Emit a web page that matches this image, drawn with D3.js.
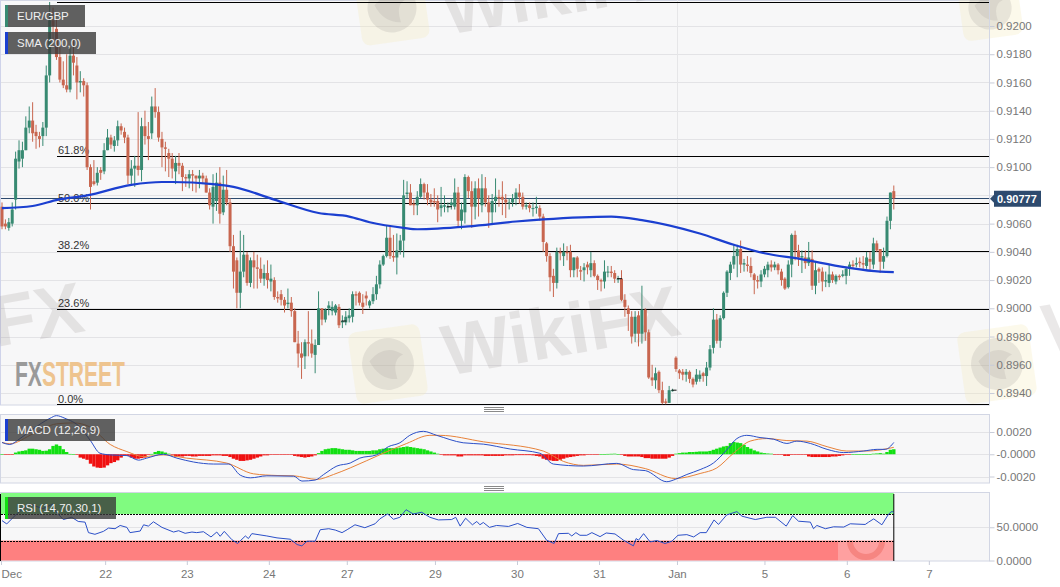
<!DOCTYPE html>
<html><head><meta charset="utf-8">
<script src="https://cdn.jsdelivr.net/npm/d3@7"></script>
<style>html,body{margin:0;padding:0;background:#fff;overflow:hidden}svg{display:block}text{font-family:"Liberation Sans",Arial,sans-serif}</style>
</head><body><div id="c"></div>
<script>
// Prices in pips (0.0001). Hourly candles.
const opens=[9072,9060,9057,9060,9077,9104,9106,9112,9128,9133,
9125,9122,9122,9128,9165,9204,9198,9178,9162,9158,
9155,9179,9172,9160,9161,9158,9100,9090,9089,9098,
9097,9112,9121,9115,9119,9129,9125,9121,9094,9099,
9101,9098,9129,9122,9124,9143,9139,9120,9114,9110,
9106,9097,9103,9101,9093,9092,9095,9094,9092,9094,
9092,9082,9072,9076,9089,9068,9084,9075,9044,9034,
9011,9026,9038,9018,9034,9029,9028,9021,9025,9019,
9020,9008,9010,9006,9003,9004,8998,8975,8968,8966,
8976,8975,8967,8974,9000,8992,9000,8998,8997,9001,
8990,8990,8993,8994,9010,9011,9004,9009,9002,9005,
9010,9017,9031,9037,9050,9037,9036,9041,9048,9081,
9082,9074,9073,9079,9088,9082,9077,9076,9076,9071,
9072,9072,9073,9072,9082,9062,9068,9093,9083,9072,
9085,9073,9085,9075,9068,9076,9079,9079,9077,9075,
9075,9078,9082,9079,9072,9073,9071,9071,9071,9065,
9046,9037,9023,9018,9040,9037,9040,9040,9027,9036,
9027,9027,9031,9027,9032,9023,9020,9019,9026,9026,
9025,9021,9021,9006,9000,8994,8982,8995,8982,8999,
8983,8951,8949,8955,8942,8934,8933,8942,8965,8956,
8955,8953,8955,8950,8948,8950,8954,8952,8958,8972,
8992,8977,8993,9011,9025,9031,9037,9042,9031,9031,
9030,9024,9020,9019,9024,9027,9031,9029,9031,9026,
9021,9015,9031,9052,9041,9036,9036,9032,9035,9016,
9028,9026,9019,9018,9024,9019,9023,9023,9023,9028,
9031,9031,9033,9032,9030,9035,9031,9046,9042,9033,
9037,9062,9083];
const closes=[9058,9058,9061,9070,9106,9112,9112,9128,9133,9124,
9122,9120,9128,9165,9204,9200,9178,9162,9158,9155,
9179,9174,9160,9161,9158,9100,9086,9088,9096,9096,
9112,9121,9116,9119,9129,9126,9121,9094,9099,9101,
9098,9129,9122,9120,9143,9139,9121,9114,9113,9106,
9099,9103,9101,9093,9092,9095,9094,9092,9094,9092,
9082,9073,9086,9089,9067,9084,9075,9044,9026,9011,
9026,9038,9018,9034,9029,9028,9021,9025,9020,9021,
9008,9007,9006,9002,9004,8998,8976,8968,8965,8976,
8975,8968,8974,9000,8992,8999,9002,9001,9002,8988,
8991,8994,8995,9010,9009,9004,9001,9007,9005,9010,
9017,9031,9037,9050,9037,9036,9041,9048,9080,9082,
9073,9073,9079,9088,9082,9077,9075,9075,9070,9073,
9073,9072,9075,9082,9062,9070,9093,9083,9072,9085,
9078,9085,9075,9068,9076,9079,9078,9077,9075,9075,
9078,9082,9079,9072,9073,9071,9071,9072,9065,9047,
9037,9022,9018,9040,9039,9040,9039,9027,9036,9028,
9026,9029,9029,9032,9023,9020,9019,9026,9026,9025,
9021,9021,9006,9001,8996,8980,8994,8982,8999,8983,
8951,8949,8954,8942,8933,8933,8942,8942,8957,8954,
8953,8955,8950,8946,8953,8953,8952,8958,8971,8992,
8977,8993,9011,9026,9031,9037,9042,9031,9032,9030,
9025,9020,9019,9024,9028,9031,9029,9031,9027,9020,
9014,9031,9052,9041,9036,9037,9032,9036,9016,9027,
9026,9019,9020,9024,9020,9023,9022,9024,9028,9031,
9030,9032,9032,9031,9036,9033,9046,9041,9033,9037,
9062,9082,9078];
const highs=[9075,9063,9064,9075,9111,9119,9118,9136,9143,9146,
9130,9125,9132,9172,9217,9213,9205,9185,9175,9180,
9185,9190,9178,9168,9163,9160,9102,9105,9100,9100,
9117,9127,9123,9122,9133,9131,9128,9123,9105,9108,
9139,9135,9140,9132,9150,9156,9143,9125,9118,9113,
9110,9108,9110,9103,9095,9098,9098,9094,9098,9096,
9094,9085,9095,9096,9100,9094,9098,9078,9052,9036,
9055,9052,9040,9036,9040,9038,9036,9031,9034,9031,
9022,9012,9013,9008,9014,9008,9000,8984,8976,8978,
8998,8985,8978,9012,9000,9000,9005,9005,9003,9003,
8995,8998,9000,9012,9012,9012,9010,9012,9006,9015,
9023,9034,9038,9059,9058,9052,9053,9052,9091,9090,
9088,9077,9083,9092,9089,9088,9081,9085,9080,9086,
9080,9075,9078,9092,9086,9075,9095,9094,9090,9090,
9092,9095,9093,9080,9081,9092,9084,9090,9081,9078,
9081,9085,9088,9082,9075,9075,9075,9079,9073,9067,
9047,9039,9028,9043,9043,9046,9044,9045,9036,9037,
9030,9032,9033,9040,9034,9024,9021,9034,9030,9030,
9027,9023,9027,9010,9002,8998,8998,8998,9016,9000,
8985,8960,8958,8956,8948,8936,8945,8943,8966,8957,
8957,8957,8956,8951,8957,8956,8955,8962,8974,9000,
8996,8995,9012,9027,9033,9045,9045,9048,9035,9037,
9036,9025,9023,9027,9030,9033,9034,9033,9032,9028,
9022,9034,9053,9055,9045,9041,9041,9047,9041,9033,
9029,9029,9026,9031,9026,9024,9024,9027,9029,9033,
9034,9036,9036,9037,9040,9040,9050,9048,9042,9043,
9065,9082,9087];
const lows=[9056,9056,9055,9058,9070,9099,9100,9112,9124,9118,
9113,9114,9115,9122,9160,9190,9176,9160,9156,9153,
9153,9165,9148,9153,9150,9098,9070,9087,9087,9091,
9095,9112,9113,9111,9115,9123,9117,9088,9087,9086,
9094,9090,9116,9105,9120,9135,9118,9100,9097,9093,
9092,9088,9095,9083,9086,9085,9083,9082,9085,9088,
9082,9070,9060,9069,9060,9066,9073,9040,9014,9000,
9000,9022,9016,9015,9014,9014,9018,9016,9014,9012,
9006,9004,9002,8997,9000,8994,8976,8958,8950,8957,
8966,8965,8954,8974,8988,8990,8995,8995,8995,8986,
8986,8988,8990,8990,9002,9002,8996,9002,9000,9003,
9006,9014,9030,9036,9035,9033,9024,9038,9036,9078,
9073,9066,9066,9078,9077,9073,9072,9072,9061,9065,
9068,9068,9070,9070,9058,9056,9060,9078,9057,9063,
9065,9068,9072,9057,9060,9068,9072,9066,9064,9070,
9072,9073,9074,9070,9070,9068,9065,9067,9062,9040,
9033,9012,9008,9014,9034,9030,9034,9022,9022,9022,
9020,9019,9024,9022,9022,9013,9012,9014,9022,9022,
9018,9018,9005,8994,8984,8975,8976,8973,8975,8977,
8950,8945,8943,8940,8932,8932,8933,8941,8955,8950,
8949,8948,8947,8944,8946,8948,8948,8945,8956,8968,
8975,8972,8992,9008,9020,9028,9022,9025,9026,9026,
9022,9010,9014,9015,9022,9022,9026,9027,9024,9016,
9013,9014,9022,9034,9030,9025,9028,9030,9013,9010,
9018,9012,9015,9015,9018,9017,9020,9022,9017,9023,
9028,9029,9029,9028,9028,9027,9028,9040,9025,9028,
9036,9056,9070];
const dojiMarks=[100,131,181,197];

const smaIdx=[0,9,16.5,25,38,47,50,62,68,80,93,102,108,118,122,137,151,159,179,188,205,215,224,234.4,248,258,262];
const smaVal=[9071,9072.5,9077,9080,9087.5,9089.5,9089.5,9088,9086,9077,9067.5,9065,9061,9057,9056,9058,9061.5,9063,9065,9062.5,9053,9045,9039,9035,9029,9026,9025.7];

const fibLabels=["0.0%","23.6%","38.2%","50.0%","61.8%",""];
const fibLevels=[8932,8999.6,9040.8,9074.5,9108.2,9217];
const lastPrice=0.90777;

const priceTicks=[0.92,0.918,0.916,0.914,0.912,0.91,0.908,0.906,0.904,0.902,0.9,0.898,0.896,0.894];
const macdTicks=[0.002,0,-0.002];
const macdTickLabels=["0.0020","-0.0000","-0.0020"];
const rsiTicks=[50,0];
const rsiTickLabels=["50.0000","0.0000"];
const dateLabels=["Dec","22","23","24","27","29","30","31","Jan","5","6","7"];
const dateIdx=[-0.3,30.3,54.3,78.4,101.3,127.2,151.3,175.4,198.3,224,248.2,272.3];

// MACD lines and histogram, in units of 0.0001
const macdIdx=[0,2.3,5.3,9.2,14.1,16,18.5,22.9,25.9,28.8,31.8,36.7,40.1,42.5,47.4,51.4,56.3,62.1,66.6,70,73,77.8,85.7,88.1,92,94.5,98.4,102.3,105.1,110,113.5,116.9,119.8,123.8,127.7,135.5,141.4,149.3,158,162,170.8,180.6,185.5,189,195.3,197.8,201.2,205.1,209,212.9,215.9,218.8,222.7,226.7,230.6,233.5,237.5,242.4,247.3,253.1,257.1,259.5,262];
const macdVal=[10.6,8.8,14.1,22.9,32.3,34.7,32.3,24.4,12.6,0.9,-0.6,-1.2,-5.3,-3.5,0,-3.5,-7,-8.8,-8.8,-18.8,-21.2,-19.4,-19.7,-24.1,-23.2,-18.2,-10.6,-7.9,-3.5,-0.6,6.8,10.3,17,20.6,17,10.3,9.1,4.7,0.9,-8.8,-10.6,-8.2,-13.8,-14.7,-24.7,-22.6,-18.2,-13.8,-7.9,3.8,14.1,17,15,13.5,9.7,11.8,9.7,4.4,1.5,2.9,4.4,4.4,10.6];
const signalIdx=[0,2.3,9.2,16,21,25.9,31.8,36.7,41.6,47.4,54.3,66,73.9,80.8,85.7,92.5,97.4,102.3,112,118.9,125.7,128.7,141.4,159,165,170.8,180.6,189,197.8,205.1,210,214.9,219.8,224.7,230.6,236.5,242.4,248.2,254.1,262];
const signalVal=[10.6,9.4,18.5,27.3,28.2,24.4,8.8,2.4,-2.1,-0.6,-3.5,-7.9,-17.6,-19.1,-19.4,-22.6,-18.2,-12.3,0.9,9.7,17,17,11.2,2.9,-6.5,-10,-8.8,-12.9,-21.8,-17.3,-12.3,0.9,11.8,14.1,12.3,11.8,6.8,2.9,2.9,6.2];
const histVal=[0,-0.3,-0.5,-0.3,1.5,2.5,3,3.5,5,5,
4.5,4,3,3.2,4.5,7.5,8.8,7.5,4.5,2,
0.3,0,-0.5,-3,-4,-5,-8.5,-11,-12,-12.3,
-12,-10,-8,-7,-5.5,-3,-1.5,-1.5,-3,-4,
-4,-3.5,-3,-0.5,0.3,2,3,2.5,1.5,0.5,
-0.5,-2,-2,-2,-1.5,-1.5,-2,-2,-1.5,-1.5,
-1.5,-1.5,-1,-1,-1,-1.5,-1.5,-2.5,-4,-5,
-6,-6,-5.5,-5,-4,-3,-2,-1,-1,-0.5,
-0.3,-0.2,-0.2,-0.2,-0.3,-0.3,-1.5,-2,-2.5,-3,
-2.5,-2,-1,1,3,4.5,5,5.5,5.5,5,
4.5,4,4,3.5,3,3,3,3,3,3.5,
3.5,4.5,5,5.5,5.5,5.5,5.5,6,6.5,7,
6.5,6,5.5,5,4.5,3.5,2.5,1.5,0.5,-0.5,
-1,-1,-1,-1,-2,-2,-1,-1,-1,-1,
-1,-1,-1.5,-1.5,-1.5,-1.5,-1.5,-1.5,-1,-1,
-1,-0.8,-0.8,-0.8,-0.8,-0.8,-1,-1.5,-2,-4,
-5,-5.5,-6,-6,-5,-4,-3,-2.5,-2,-1.5,
-1,-1,-0.5,-0.3,-0.1,-0.1,0.1,0.2,0.3,0.4,
0.5,0.2,-0.2,-1.5,-2,-2,-2,-2,-2.5,-3.5,
-3.5,-4,-4,-4,-4,-4,-3,-1.5,0.5,1,
1.5,1.5,2,2,2.2,2.5,2.5,2.5,3,4,
5,6,7,7.5,10,11,10.5,10,8.5,6.5,
5,3.5,2.5,1.5,1,0.7,0.5,-0.1,-0.3,-0.5,
-1.5,-1.5,-0.5,-0.5,-0.5,-0.5,-0.5,-2,-2.5,-2.5,
-2.5,-2.5,-2.5,-2.5,-2,-2,-1.5,-1,-0.5,-0.3,
0,0,0,0,0,0.2,0.5,0.7,1,0.5,
2,4,4.5];

const rsiIdx=[0,1.4,4.3,8,12,15,16,18,20.5,22.4,24.4,25.4,27.3,29.8,31.3,33.2,34.7,36.7,37.6,40.6,41.6,43,44.5,47,50.4,51.9,53.8,55.8,57.2,59.2,61.4,63.1,64.1,65.3,67.5,69.2,71.5,72.4,73.4,77.8,80.8,84.7,86.7,88.1,89.6,92,93.5,96,97.9,99.9,101.4,103.7,106.6,109.6,111,113.3,115,116.9,118.7,120.8,123.3,125.7,128.2,132.1,133.3,134.6,136.2,138.2,139.5,140.4,141.4,143.2,145.3,148.8,151.5,154.2,157.6,160,162.2,163.5,166.4,167.4,168.6,169.8,171.8,173.3,175.7,177.5,180.1,182.6,185.5,186.3,187,188.5,190.4,192.4,194.8,196.8,198.6,201.2,203.2,205.1,206.9,209.2,210.5,212.9,215.9,217.4,221.3,224.7,227.2,230.4,232.3,234,237.5,238.4,239.4,241.9,244.3,247.3,249.2,253.6,254.6,256.1,258.5,260.5,261.5,262];
const rsiVal=[60,55,70,85,78,85,72.5,61.6,65,58.7,57.7,41.9,39.4,43.8,48.8,47.8,52.7,49.8,41.9,44.3,53.7,51.7,58.2,49.8,42.8,44.8,40.9,42.8,41.9,43.3,35.4,42.8,36.4,43.8,31.5,25.6,36.9,33,40.4,36.9,34,32,24,22,29,29,46.3,47.8,45.8,41.9,46.3,53.7,49.3,55.2,62.6,70,62,65,76.4,70,72.5,65,61,61.6,65,51.7,63.6,53.7,58.7,53.7,57.2,49.8,52.7,51.2,55.7,49.8,47.8,30.5,25.6,40.4,40.9,36.9,41.9,37.9,37.9,41.9,35.9,41.4,39.9,30.5,22,33,30.5,40.4,28,30,25.6,29,37.9,38.9,35.4,41.9,41.9,61,54.2,68.5,73.5,66.6,61.6,65,65,51.7,67.5,59.1,57.7,47.8,52.7,47.8,50.7,50.3,55.2,54.2,57.7,62.6,53.7,70,74,71.5];
const rsiOver=70, rsiUnder=30;

// ---- drawing ----
const W=1060,H=587,axisX=989.5;
const svg=d3.select("#c").append("svg").attr("width",W).attr("height",H);
const x=d3.scaleLinear().domain([0,262]).range([2,893.8]);
const y=d3.scaleLinear().domain([0.894,0.92]).range([393,26]);
const yM=d3.scaleLinear().domain([-0.002,0.002]).range([476.5,432]);
const yR=d3.scaleLinear().domain([0,100]).range([560.5,494]);
const P=v=>v/1e4;

const panels=[[1,0.5,405],[1,414.5,483],[1,492.5,561]];
panels.forEach(([l,t,b])=>svg.append("rect").attr("x",l-0.5).attr("y",t).attr("width",axisX-l+0.5).attr("height",b-t)
  .attr("fill","#f7f7f8").attr("stroke","#d2d6e4"));
svg.append("line").attr("x1",0.5).attr("x2",0.5).attr("y1",0).attr("y2",405).attr("stroke","#cfd3ea").attr("stroke-width",1);

const defs=svg.append("defs");
defs.append("clipPath").attr("id","cM").append("rect").attr("x",0).attr("y",0).attr("width",axisX).attr("height",405);
defs.append("clipPath").attr("id","cR").append("rect").attr("x",838).attr("y",yR(rsiUnder)).attr("width",x(262)-838).attr("height",yR(0)-yR(rsiUnder));

// gridlines
const grid=(ys,sel)=>sel.selectAll(null).data(ys).join("line").attr("x1",1).attr("x2",axisX)
  .attr("y1",d=>Math.round(d)+0.5).attr("y2",d=>Math.round(d)+0.5).attr("stroke","#e3e3e6");
grid(priceTicks.map(y),svg.append("g"));
grid(macdTicks.map(yM),svg.append("g"));
grid(rsiTicks.slice(0,1).map(yR),svg.append("g"));
[[0,405],[414,483],[493,561]].forEach(([a,b])=>svg.append("line").attr("x1",x(198.3)+.5).attr("x2",x(198.3)+.5).attr("y1",a).attr("y2",b).attr("stroke","#e6e6e8"));

// watermarks
const wm=svg.append("g");
function emblem(cx,cy,s){
  const g=wm.append("g").attr("transform",`translate(${cx},${cy}) rotate(-8)`);
  g.append("rect").attr("x",-s).attr("y",-s).attr("width",2*s).attr("height",2*s).attr("rx",8).attr("fill","#f6e8b8").attr("opacity",.28);
  g.append("circle").attr("r",s*.72).attr("fill","#8a8080").attr("opacity",.17);
  g.append("path").attr("d",`M${-s*.5} ${-s*.15} Q0 ${-s*.6} ${s*.45} ${-s*.2} Q${s*.1} ${-s*.1} ${s*.2} ${s*.45} Q${-s*.3} ${s*.4} ${-s*.5} ${-s*.15}Z`).attr("fill","#8a8080").attr("opacity",.14);
}
emblem(388,364,36);emblem(392,8,34);emblem(997,364,36);emblem(990,8,30);
function wmText(t,xx,yy,fs){wm.append("text").attr("transform",`translate(${xx},${yy}) rotate(-10)`).attr("font-size",fs).attr("font-weight","700")
  .attr("fill","#8f8585").attr("opacity",.18).text(t);}
wmText("WikiFX",447,376,72);wmText("WikiFX",447,35,72);wmText("FX",-4,347,72);wmText("W",1048,355,72);

// FXSTREET logo
const logo=svg.append("text").attr("x",15).attr("y",386).attr("font-size",35).attr("font-weight","700").attr("font-family","'Liberation Sans Narrow','Liberation Sans',sans-serif").attr("textLength",110).attr("lengthAdjust","spacingAndGlyphs");
logo.append("tspan").attr("fill","#9a9a9a").text("FX");
logo.append("tspan").attr("fill","#eec48f").text("STREET");

// fib levels
const fibG=svg.append("g").attr("clip-path","url(#cM)");
fibG.selectAll("line").data(fibLevels).join("line").attr("x1",57).attr("x2",axisX)
  .attr("y1",d=>Math.round(y(P(d)))+0.5).attr("y2",d=>Math.round(y(P(d)))+0.5).attr("stroke","#000").attr("stroke-width",1);
fibG.selectAll("text").data(fibLabels).join("text").attr("x",58).attr("y",(d,i)=>y(P(fibLevels[i]))-1.5)
  .attr("font-size",11).attr("fill","#333").text(d=>d);

// last price line
svg.append("line").attr("x1",1).attr("x2",axisX).attr("y1",Math.floor(y(lastPrice))+.5).attr("y2",Math.floor(y(lastPrice))+.5).attr("stroke","#2d4a6e");

// candles
const up="#388a72",dn="#c8664f";
const cG=svg.append("g").attr("clip-path","url(#cM)");
const idx=d3.range(opens.length);
cG.selectAll("line.w").data(idx).join("line").attr("class","w")
  .attr("x1",i=>x(i)).attr("x2",i=>x(i))
  .attr("y1",i=>y(P(Math.max(highs[i],opens[i],closes[i])))).attr("y2",i=>y(P(Math.min(lows[i],opens[i],closes[i]))))
  .attr("stroke",i=>closes[i]>=opens[i]?up:dn).attr("stroke-width",1);
cG.selectAll("rect").data(idx).join("rect")
  .attr("x",i=>x(i)-1.5).attr("width",3)
  .attr("y",i=>y(P(Math.max(opens[i],closes[i]))))
  .attr("height",i=>Math.max(1,Math.abs(y(P(opens[i]))-y(P(closes[i])))))
  .attr("fill",i=>closes[i]>=opens[i]?up:dn);
cG.selectAll("line.d").data(dojiMarks).join("line").attr("class","d")
  .attr("x1",i=>x(i)-1).attr("x2",i=>x(i)+4)
  .attr("y1",i=>y(P(closes[i]))).attr("y2",i=>y(P(closes[i]))).attr("stroke","#111");

// SMA
svg.append("path").datum(smaVal).attr("fill","none").attr("stroke","#1b3fd0").attr("stroke-width",2.2)
  .attr("d",d3.line().x((d,i)=>x(smaIdx[i])).y(d=>y(P(d))).curve(d3.curveMonotoneX));

// MACD
svg.append("g").selectAll("rect").data(histVal).join("rect")
  .attr("x",(d,i)=>x(i)-1.7).attr("width",3.4)
  .attr("y",d=>Math.min(yM(0),yM(d/1e4))).attr("height",d=>Math.max(.6,Math.abs(yM(d/1e4)-yM(0))))
  .attr("fill",d=>d>=0?"#12e012":"#f01010");
svg.append("path").datum(signalVal).attr("fill","none").attr("stroke","#e8823a").attr("stroke-width",1)
  .attr("d",d3.line().x((d,i)=>x(signalIdx[i])).y(d=>yM(d/1e4)).curve(d3.curveMonotoneX));
svg.append("path").datum(macdVal).attr("fill","none").attr("stroke","#2b4fc8").attr("stroke-width",1)
  .attr("d",d3.line().x((d,i)=>x(macdIdx[i])).y(d=>yM(d/1e4)).curve(d3.curveMonotoneX));

// RSI
const rsiEnd=x(262);
svg.append("rect").attr("x",1).attr("width",rsiEnd-1).attr("y",yR(100)-1).attr("height",yR(rsiOver)-yR(100)+1).attr("fill","#80fb80");
svg.append("rect").attr("x",1).attr("width",rsiEnd-1).attr("y",yR(rsiUnder)).attr("height",yR(0)-yR(rsiUnder)).attr("fill","#fe8080");
svg.append("rect").attr("x",838).attr("width",rsiEnd-838).attr("y",yR(rsiUnder)).attr("height",yR(0)-yR(rsiUnder)).attr("fill","#fff").attr("opacity",.25);
svg.append("circle").attr("cx",866).attr("cy",541).attr("r",16).attr("fill","none").attr("stroke","#ee6f68").attr("stroke-width",6).attr("opacity",.55).attr("clip-path","url(#cR)");
[rsiOver,rsiUnder].forEach(v=>svg.append("line").attr("x1",1).attr("x2",rsiEnd).attr("y1",Math.round(yR(v))+.5).attr("y2",Math.round(yR(v))+.5).attr("stroke","#000").attr("stroke-dasharray","2,1"));
svg.append("line").attr("x1",rsiEnd).attr("x2",rsiEnd).attr("y1",494).attr("y2",561).attr("stroke","#000");
svg.append("line").attr("x1",.5).attr("x2",.5).attr("y1",494).attr("y2",561).attr("stroke","#000");
svg.append("path").datum(rsiVal).attr("fill","none").attr("stroke","#2b4fc8").attr("stroke-width",1)
  .attr("d",d3.line().x((d,i)=>x(rsiIdx[i])).y(d=>yR(d)));

// axes
function styleAxis(g){g.select(".domain").attr("stroke","#d2d6e4");g.selectAll(".tick line").attr("stroke","#c8ccd8");
  g.selectAll("text").attr("fill","#777").attr("font-size",11.5).attr("font-family","'Liberation Sans',Arial,sans-serif");}
const ax=(sc,tv,fmt)=>d3.axisRight(sc).tickValues(tv).tickFormat(fmt).tickSize(5).tickPadding(2);
svg.append("g").attr("transform",`translate(${axisX},0)`).call(ax(y,priceTicks,d=>d.toFixed(4))).call(styleAxis).select(".domain").remove();
svg.append("g").attr("transform",`translate(${axisX},0)`).call(ax(yM,macdTicks,(d,i)=>macdTickLabels[i])).call(styleAxis).select(".domain").remove();
svg.append("g").attr("transform",`translate(${axisX},0)`).call(ax(yR,rsiTicks,(d,i)=>rsiTickLabels[i])).call(styleAxis).select(".domain").remove();
svg.append("line").attr("x1",axisX).attr("x2",axisX).attr("y1",0).attr("y2",405).attr("stroke","#d2d6e4");

const xAxis=d3.axisBottom(x).tickValues(dateIdx).tickFormat((d,i)=>dateLabels[i]).tickSize(4).tickPadding(5);
const xg=svg.append("g").attr("transform","translate(0,561)").call(xAxis).call(styleAxis);
xg.select(".domain").remove();
xg.selectAll("text").filter((d,i)=>i===0).attr("text-anchor","start").attr("x",0);

// price label
const py=y(lastPrice);
svg.append("path").attr("d",`M990 ${py} L994 ${py-4} L994 ${py-8} L1041 ${py-8} L1041 ${py+8} L994 ${py+8} L994 ${py+4} Z`).attr("fill","#2d4a6e");
svg.append("text").attr("x",997).attr("y",py+4).attr("font-size",11).attr("font-weight","700").attr("fill","#fff").text(lastPrice.toFixed(5));

// legends
const legends=[["EUR/GBP",5,5,80,"#388a72"],["SMA (200,0)",5,32,91,"#1b3fd0"],["MACD (12,26,9)",5,419,110,"#1b3fd0"],["RSI (14,70,30,1)",5,497,111,"#12e012"]];
legends.forEach(([t,lx,ly,w,c])=>{
  svg.append("rect").attr("x",lx).attr("y",ly).attr("width",w).attr("height",22).attr("fill","#3a3a3a").attr("opacity",.8);
  svg.append("rect").attr("x",lx).attr("y",ly).attr("width",3).attr("height",22).attr("fill",c);
  svg.append("text").attr("x",17).attr("y",ly+15).attr("font-size",11.5).attr("fill","#f0f0f0").text(t);
});

// splitters
[407,486].forEach(yy=>[0,2,4].forEach(d=>svg.append("line").attr("x1",484).attr("x2",504).attr("y1",yy+d+.5).attr("y2",yy+d+.5).attr("stroke","#8a8a8a")));
</script></body></html>
